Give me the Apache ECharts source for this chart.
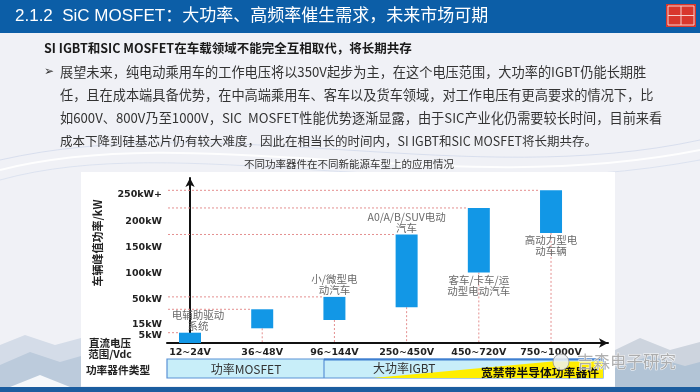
<!DOCTYPE html>
<html><head><meta charset="utf-8">
<script src="https://cdn.jsdelivr.net/npm/echarts@6/dist/echarts.min.js"></script>
<style>html,body{margin:0;padding:0;background:#f0f1f6}#c{width:700px;height:392px}</style>
</head><body><div id="c"></div>
<script>
// ---- data ----
const categories = ['12~24V', '36~48V', '96~144V', '250~450V', '450~720V', '750~1000V'];
const powerLowKW = [0, 12, 22, 40, 103, 179];
const powerHighKW = [8, 37, 56, 176, 226, 259];
const barLabels = ['电辅助驱动\n系统', '', '小/微型电\n动汽车', 'A0/A/B/SUV电动\n汽车', '客车/卡车/运\n动型电动汽车', '高动力型电\n动车辆'];
const yTickKW = [5, 15, 50, 100, 150, 200, 250];
const yTickLabels = ['5kW', '15kW', '50kW', '100kW', '150kW', '200kW', '250kW+'];
const deviceTypes = ['功率MOSFET', '大功率IGBT', '宽禁带半导体功率器件'];
// schematic (piecewise) power axis of the original figure
const scaleKW = [0, 5, 15, 50, 100, 150, 200, 250, 300];
const scaleUnit = [0, 7, 18, 43, 69, 95, 121, 148, 174];

const paraLines = [
  '展望未来，纯电动乘用车的工作电压将以350V起步为主，在这个电压范围，大功率的IGBT仍能长期胜',
  '任，且在成本端具备优势，在中高端乘用车、客车以及货车领域，对工作电压有更高要求的情况下，比',
  '如600V、800V乃至1000V，SIC  MOSFET性能优势逐渐显露，由于SIC产业化仍需要较长时间，目前来看',
  '成本下降到硅基芯片仍有较大难度，因此在相当长的时间内，SI IGBT和SIC MOSFET将长期共存。'
];

function toAxis(kw) {
  for (let i = 1; i < scaleKW.length; i++) {
    if (kw <= scaleKW[i]) {
      const t = (kw - scaleKW[i - 1]) / (scaleKW[i] - scaleKW[i - 1]);
      return scaleUnit[i - 1] + t * (scaleUnit[i] - scaleUnit[i - 1]);
    }
  }
  return scaleUnit[scaleUnit.length - 1];
}
const yTickPos = yTickKW.map(toAxis);
const barData = categories.map((c, i) => [i, toAxis(powerLowKW[i]), toAxis(powerHighKW[i])]);

const CJK = '"Noto Sans CJK SC", sans-serif';
const LAT = '"Liberation Sans", "Noto Sans CJK SC", sans-serif';

const chart = echarts.init(document.getElementById('c'), null, {renderer: 'canvas'});

function txt(o) {
  return Object.assign({fontFamily: CJK, textVerticalAlign: 'middle'}, o);
}

const graphics = [
  // backgrounds
  {type: 'rect', z: -20, shape: {x: 0, y: 0, width: 700, height: 392}, style: {fill: '#f0f1f6'}},
  {type: 'bezierCurve', z: -19, shape: {x1: 0, y1: 170, cpx1: 200, cpy1: 120, cpx2: 450, cpy2: 200, x2: 700, y2: 150}, style: {stroke: 'rgba(255,255,255,0.9)', lineWidth: 2, fill: null}},
  {type: 'bezierCurve', z: -19, shape: {x1: 0, y1: 160, cpx1: 220, cpy1: 110, cpx2: 470, cpy2: 190, x2: 700, y2: 140}, style: {stroke: 'rgba(210,218,235,0.8)', lineWidth: 1, fill: null}},
  {type: 'bezierCurve', z: -19, shape: {x1: 0, y1: 180, cpx1: 180, cpy1: 130, cpx2: 430, cpy2: 210, x2: 700, y2: 160}, style: {stroke: 'rgba(215,222,238,0.8)', lineWidth: 1, fill: null}},
  {type: 'polygon', z: -18, shape: {points: [[0, 345], [25, 335], [55, 345], [81, 338], [81, 387], [0, 387]]}, style: {fill: '#d4dce8'}},
  {type: 'polygon', z: -18, shape: {points: [[0, 365], [30, 352], [60, 362], [81, 356], [81, 387], [0, 387]]}, style: {fill: '#bccbdc'}},
  {type: 'polygon', z: -18, shape: {points: [[10, 387], [40, 375], [70, 387]]}, style: {fill: '#f6f8fb'}},
  {type: 'polygon', z: -18, shape: {points: [[615, 350], [640, 338], [670, 350], [700, 342], [700, 387], [615, 387]]}, style: {fill: '#cdd4de'}},
  {type: 'polygon', z: -18, shape: {points: [[615, 368], [650, 356], [685, 366], [700, 362], [700, 387], [615, 387]]}, style: {fill: '#b2c4d6'}},
  // chart white panel
  {type: 'rect', z: -15, shape: {x: 81, y: 172, width: 534, height: 214}, style: {fill: '#ffffff'}},
  // header
  {type: 'rect', z: -10, shape: {x: 0, y: 0, width: 700, height: 33}, style: {fill: '#0c5ea7'}},
  {type: 'rect', z: -10, shape: {x: 0, y: 387, width: 700, height: 5}, style: {fill: '#1b5d9f'}},
  {type: 'text', z: 10, style: txt({text: '2.1.2  SiC MOSFET：大功率、高频率催生需求，未来市场可期', x: 15, y: 16, fill: '#ffffff', fontSize: 17, fontFamily: LAT})},
  // seal logo
  {type: 'rect', z: 10, shape: {x: 666, y: 4, width: 30, height: 23}, style: {fill: '#d8372c'}},
  {type: 'rect', z: 11, shape: {x: 668, y: 6, width: 26, height: 19}, style: {fill: null, stroke: '#f6d0cc', lineWidth: 1}},
  {type: 'line', z: 11, shape: {x1: 681, y1: 6, x2: 681, y2: 25}, style: {stroke: '#f6d0cc', lineWidth: 1}},
  {type: 'line', z: 11, shape: {x1: 668, y1: 15.5, x2: 694, y2: 15.5}, style: {stroke: '#f6d0cc', lineWidth: 1}},
  // subtitle + paragraph
  {type: 'text', z: 10, style: txt({text: 'SI IGBT和SIC MOSFET在车载领域不能完全互相取代，将长期共存', x: 44, y: 48, fill: '#1a1a1a', fontSize: 12.5, fontWeight: 'bold'})},
  {type: 'text', z: 10, style: txt({text: '➢', x: 44, y: 71.5, fill: '#333', fontSize: 12, fontFamily: 'DejaVu Sans'})},
  {type: 'text', z: 10, style: txt({text: paraLines[0], x: 60, y: 71.5, fill: '#333', fontSize: 13.2})},
  {type: 'text', z: 10, style: txt({text: paraLines[1], x: 60, y: 95, fill: '#333', fontSize: 13.2})},
  {type: 'text', z: 10, style: txt({text: paraLines[2], x: 60, y: 118.3, fill: '#333', fontSize: 13.2})},
  {type: 'text', z: 10, style: txt({text: paraLines[3], x: 60, y: 141.7, fill: '#333', fontSize: 12.5})},
  {type: 'text', z: 10, style: txt({text: '不同功率器件在不同新能源车型上的应用情况', x: 349, y: 164, fill: '#333', fontSize: 10.5, textAlign: 'center'})},
  // axis side labels
  {type: 'text', z: 10, rotation: Math.PI / 2, x: 98, y: 243, style: txt({text: '车辆峰值功率/kW', x: 0, y: 0, fill: '#222', fontSize: 11, fontWeight: 'bold', textAlign: 'center'})},
  {type: 'text', z: 10, style: txt({text: '直流电压\n范围/Vdc', x: 110, y: 349, fill: '#222', fontSize: 10.5, fontWeight: 'bold', lineHeight: 11, textAlign: 'center'})},
  {type: 'text', z: 10, style: txt({text: '功率器件类型', x: 118, y: 369.5, fill: '#222', fontSize: 10.7, fontWeight: 'bold', textAlign: 'center'})},
  // device type band
  {type: 'rect', z: 5, shape: {x: 167, y: 359, width: 436, height: 19}, style: {fill: '#c8eef9', stroke: '#5a92d6', lineWidth: 1.2}},
  {type: 'polygon', z: 6, shape: {points: [[373, 378], [552, 361.5], [603, 361.5], [603, 378]]}, style: {fill: '#ffee00'}},
  {type: 'line', z: 7, shape: {x1: 324, y1: 359, x2: 324, y2: 378}, style: {stroke: '#5a92d6', lineWidth: 1.2}},
  {type: 'line', z: 7, shape: {x1: 324, y1: 359.5, x2: 603, y2: 359.5}, style: {stroke: '#3f7fd0', lineWidth: 2}},
  {type: 'text', z: 8, style: txt({text: deviceTypes[0], x: 246, y: 369, fill: '#333', fontSize: 12, textAlign: 'center'})},
  {type: 'text', z: 8, style: txt({text: deviceTypes[1], x: 373, y: 368.5, fill: '#333', fontSize: 12})},
  {type: 'text', z: 8, style: txt({text: deviceTypes[2], x: 540, y: 372.5, fill: '#111', fontSize: 11.8, fontWeight: 'bold', textAlign: 'center'})},
  // watermark
  {type: 'circle', z: 20, shape: {cx: 561, cy: 362, r: 8}, style: {fill: 'rgba(235,238,242,0.85)', stroke: 'rgba(150,150,150,0.8)', lineWidth: 1}},
  {type: 'text', z: 20, style: txt({text: '吉森电子研究', x: 577, y: 362, fill: 'rgba(150,150,150,0.75)', stroke: 'rgba(255,255,255,0.9)', lineWidth: 1, fontSize: 16.5})}
];

const option = {
  animation: false,
  backgroundColor: 'transparent',
  grid: {left: 167, right: 92, top: 178, bottom: 49},
  xAxis: {
    type: 'value', min: -0.3186, max: 5.789,
    splitLine: {show: false}, axisTick: {show: false},
    axisLine: {show: true, symbol: ['none', 'arrow'], symbolSize: [7, 9], lineStyle: {color: '#111', width: 2}},
    axisLabel: {
      customValues: categories.map((c, i) => i),
      formatter: v => categories[Math.round(v)] || '',
      color: '#222', fontWeight: 'bold', fontSize: 9.5, fontFamily: 'DejaVu Sans', margin: 5
    }
  },
  yAxis: {
    type: 'value', min: 0, max: 165,
    splitLine: {show: false}, axisTick: {show: false},
    axisLine: {show: true, symbol: ['none', 'arrow'], symbolSize: [7, 9], lineStyle: {color: '#111', width: 2}},
    axisLabel: {
      customValues: yTickPos,
      formatter: v => { const k = yTickPos.findIndex(p => Math.abs(p - v) < 0.01); return k >= 0 ? yTickLabels[k] : ''; },
      color: '#222', fontWeight: 'bold', fontSize: 9.5, fontFamily: 'DejaVu Sans', margin: 5
    }
  },
  series: [{
    type: 'custom',
    clip: false,
    data: barData,
    renderItem: function (params, api) {
      const i = api.value(0);
      const pLo = api.coord([i, api.value(1)]);
      const pHi = api.coord([i, api.value(2)]);
      const origin = api.coord([-0.3186, 0]);
      const w = 22;
      const dash = {stroke: '#e48f8f', lineWidth: 1, lineDash: [2, 2]};
      const children = [
        {type: 'line', shape: {x1: origin[0] + 1, y1: pHi[1], x2: pHi[0] - w / 2, y2: pHi[1]}, style: dash},
        {type: 'rect', shape: {x: pLo[0] - w / 2, y: pHi[1], width: w, height: pLo[1] - pHi[1]}, style: {fill: '#1297e6'}}
      ];
      if (origin[1] - pLo[1] > 1) {
        children.unshift({type: 'line', shape: {x1: pLo[0], y1: pLo[1], x2: pLo[0], y2: origin[1] - 1}, style: dash});
      }
      const t = barLabels[params.dataIndex];
      if (t) {
        const below = params.dataIndex >= 4;
        children.push({
          type: 'text',
          style: {
            text: t, x: pHi[0] + (params.dataIndex === 0 ? 8 : 0),
            y: below ? pLo[1] + 2 : pHi[1] - 1,
            textAlign: 'center', textVerticalAlign: below ? 'top' : 'bottom',
            fill: '#6a6a6a', fontSize: 10.5, fontFamily: CJK, lineHeight: 11
          }
        });
      }
      return {type: 'group', children: children};
    }
  }],
  graphic: {elements: graphics}
};
chart.setOption(option);
</script>
</body></html>
